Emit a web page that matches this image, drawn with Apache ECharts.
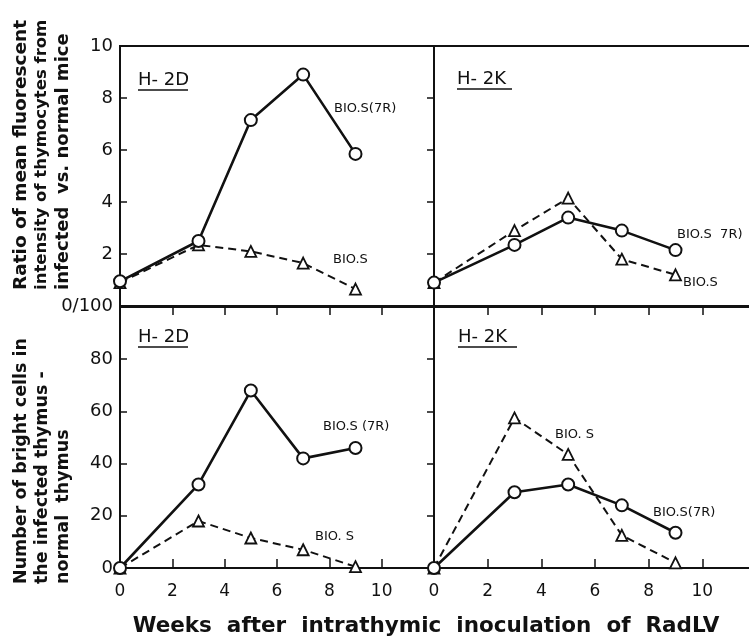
<!DOCTYPE html>
<html>
<head>
<meta charset="utf-8">
<script src="https://cdn.jsdelivr.net/npm/echarts@6/dist/echarts.min.js"></script>
<style>
  html, body { margin: 0; padding: 0; background: #fff; }
  #chart { width: 749px; height: 639px; }
</style>
</head>
<body>
<div id="chart"></div>
<script>
// Weeks after inoculation at which thymocytes were sampled
const weeks = [0, 3, 5, 7, 9];

// Ratio of mean fluorescent intensity (upper panels)
const ratioD_7R = [0.95, 2.5, 7.15, 8.9, 5.85];
const ratioD_S  = [0.9, 2.35, 2.1, 1.65, 0.65];
const ratioK_7R = [0.9, 2.35, 3.4, 2.9, 2.15];
const ratioK_S  = [0.9, 2.9, 4.15, 1.8, 1.2];

// Number of bright cells, infected minus normal thymus (lower panels)
const brightD_7R = [0, 32, 68, 42, 46];
const brightD_S  = [0, 18, 11.5, 7, 0.5];
const brightK_7R = [0, 29, 32, 24, 13.5];
const brightK_S  = [0, 57.5, 43.5, 12.5, 2];

// Axis tick values
const weekTicks = { min: 0, max: 12, interval: 2, lastLabel: 10 };
const ratioTicks = { min: 0, max: 10, interval: 2 };
const brightTicks = { min: 0, max: 100, interval: 20 };

const FONT = 'DejaVu Sans';
const INK = '#111';

const pairs = (ys) => weeks.map((w, i) => [w, ys[i]]);

const grids = [
  { left: 120, top: 46, width: 314, height: 260 },
  { left: 434, top: 46, width: 322, height: 260 },
  { left: 120, top: 307, width: 314, height: 261 },
  { left: 434, top: 307, width: 322, height: 261 }
].map(g => Object.assign({
  show: true, borderColor: INK, borderWidth: 2, backgroundColor: 'transparent',
  containLabel: false, outerBoundsMode: 'none'
}, g));

function xAxis(gridIndex, position, showLabels) {
  return {
    type: 'value', gridIndex, position,
    min: weekTicks.min, max: weekTicks.max, interval: weekTicks.interval,
    axisLine: { show: false },
    axisTick: { show: true, inside: true, length: 9, lineStyle: { color: INK, width: 1.5 } },
    axisLabel: {
      show: showLabels, margin: 15, fontFamily: FONT, fontSize: 17, color: INK,
      formatter: v => (v > weekTicks.lastLabel ? '' : String(v))
    },
    splitLine: { show: false }
  };
}

function yAxis(gridIndex, position, ticks, formatter) {
  return {
    type: 'value', gridIndex, position,
    min: ticks.min, max: ticks.max, interval: ticks.interval,
    axisLine: { show: false },
    axisTick: { show: true, inside: true, length: 7, lineStyle: { color: INK, width: 1.5 } },
    axisLabel: {
      show: !!formatter, margin: 7, fontFamily: FONT, fontSize: 18, color: INK,
      formatter: formatter || undefined
    },
    splitLine: { show: false }
  };
}

function solid(idx, ys) {
  return {
    type: 'line', xAxisIndex: idx, yAxisIndex: idx, data: pairs(ys),
    clip: false, symbol: 'circle', symbolSize: 12,
    lineStyle: { color: INK, width: 2.6, type: 'solid' },
    itemStyle: { color: '#fff', borderColor: INK, borderWidth: 2 },
    z: 3
  };
}

function dashed(idx, ys) {
  return {
    type: 'line', xAxisIndex: idx, yAxisIndex: idx, data: pairs(ys),
    clip: false, symbol: 'triangle', symbolSize: 11,
    lineStyle: { color: INK, width: 2, type: [8, 5] },
    itemStyle: { color: '#fff', borderColor: INK, borderWidth: 1.8 },
    z: 2
  };
}

function text(x, y, str, size, extra) {
  return Object.assign({
    type: 'text', x, y,
    style: { text: str, fontFamily: FONT, fontSize: size, fill: INK, textAlign: 'left', textVerticalAlign: 'middle' }
  }, extra || {});
}

function panelName(x, y, str, underlineWidth) {
  return [
    text(x, y, str, 18),
    { type: 'line', shape: { x1: x, y1: y + 10, x2: x + underlineWidth, y2: y + 10 }, style: { stroke: INK, lineWidth: 1.6 } }
  ];
}

function vertical(x, y, str, size) {
  return {
    type: 'text', x, y, rotation: Math.PI / 2,
    style: { text: str, fontFamily: FONT, fontSize: size, fontWeight: 'bold', fill: INK, textAlign: 'left', textVerticalAlign: 'middle' }
  };
}

const graphics = [
  // y-axis titles
  vertical(21, 290, 'Ratio of mean fluorescent', 18.5),
  vertical(42, 290, 'intensity of thymocytes from', 16.5),
  vertical(63, 290, 'infected  vs. normal mice', 18),
  vertical(21, 584, 'Number of bright cells in', 17.5),
  vertical(42, 584, 'the infected thymus -', 17.5),
  vertical(63, 584, 'normal  thymus', 17.5),
  // x-axis title
  {
    type: 'text', x: 426, y: 626,
    style: { text: 'Weeks  after  intrathymic  inoculation  of  RadLV', fontFamily: FONT, fontSize: 21.5, fontWeight: 'bold', fill: INK, textAlign: 'center', textVerticalAlign: 'middle' }
  },
  ...panelName(138, 80, 'H- 2D', 50),
  ...panelName(457, 79, 'H- 2K', 55),
  ...panelName(138, 337, 'H- 2D', 50),
  ...panelName(458, 337, 'H- 2K', 59),
  // strain labels beside the curves
  text(334, 109, 'BIO.S(7R)', 13),
  text(333, 260, 'BIO.S', 13),
  text(677, 235, 'BIO.S  7R)', 13),
  text(683, 283, 'BIO.S', 13),
  text(323, 427, 'BIO.S (7R)', 13),
  text(315, 537, 'BIO. S', 13),
  text(555, 435, 'BIO. S', 13),
  text(653, 513, 'BIO.S(7R)', 13)
];

const chart = echarts.init(document.getElementById('chart'), null, { renderer: 'canvas' });
chart.setOption({
  backgroundColor: '#fff',
  animation: false,
  grid: grids,
  xAxis: [
    xAxis(0, 'top', false),
    xAxis(1, 'top', false),
    xAxis(2, 'bottom', true),
    xAxis(3, 'bottom', true)
  ],
  yAxis: [
    yAxis(0, 'left', ratioTicks, v => (v === 0 ? '0/100' : String(v))),
    yAxis(1, 'right', ratioTicks, null),
    yAxis(2, 'left', brightTicks, v => (v === brightTicks.max ? '' : String(v))),
    yAxis(3, 'right', brightTicks, null)
  ],
  series: [
    solid(0, ratioD_7R), dashed(0, ratioD_S),
    solid(1, ratioK_7R), dashed(1, ratioK_S),
    solid(2, brightD_7R), dashed(2, brightD_S),
    solid(3, brightK_7R), dashed(3, brightK_S)
  ],
  graphic: graphics
});
</script>
</body>
</html>
